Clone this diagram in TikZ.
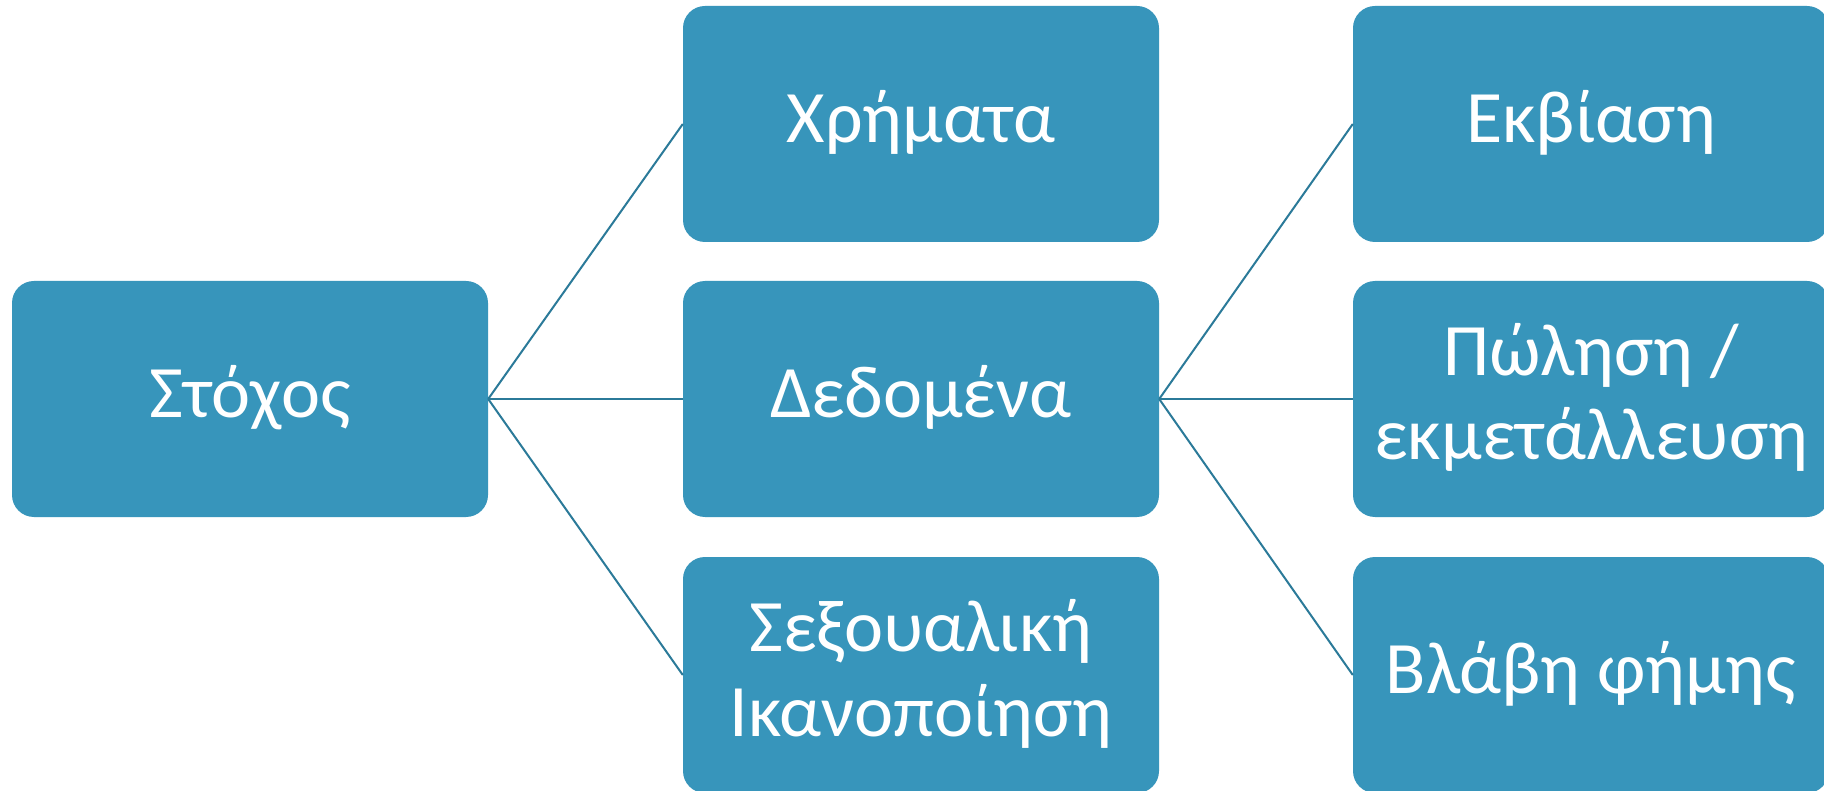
\documentclass[tikz,border=0pt]{standalone}
\usepackage{fontspec}
\setmainfont{Carlito}
\definecolor{boxblue}{RGB}{55,149,187}
\definecolor{linkblue}{RGB}{43,122,153}
\newcommand\ls{\rule[-0.25em]{0pt}{1em}}
\tikzset{
  card/.style={fill=boxblue, draw=none, rounded corners=22pt, minimum width=476pt,
    minimum height=236pt, inner sep=0pt, text=white, align=center,
    font=\fontsize{74pt}{85pt}\selectfont},
  link/.style={draw=linkblue, line width=2pt}
}
\begin{document}
\begin{tikzpicture}[x=1pt,y=-1pt]
\useasboundingbox (0,0) rectangle (1824,791);
\clip (0,0) rectangle (1824,791);
\fill[white] (0,0) rectangle (1824,791);
\node[card] (goal) at (250,399) {\ls Στόχος};
\node[card] (money) at (921,124) {\ls Χρήματα};
\node[card] (data) at (921,399) {\ls Δεδομένα};
\node[card] (sex) at (921,675) {\ls Σεξουαλική\\\ls Ικανοποίηση};
\node[card] (blackmail) at (1591,124) {\ls Εκβίαση};
\node[card] (sale) at (1591,399) {\ls Πώληση /\\\ls εκμετάλλευση};
\node[card] (fame) at (1591,675) {\ls Βλάβη φήμης};
\draw[link] (goal.east) -- (money.west);
\draw[link] (goal.east) -- (data.west);
\draw[link] (goal.east) -- (sex.west);
\draw[link] (data.east) -- (blackmail.west);
\draw[link] (data.east) -- (sale.west);
\draw[link] (data.east) -- (fame.west);
\end{tikzpicture}
\end{document}
